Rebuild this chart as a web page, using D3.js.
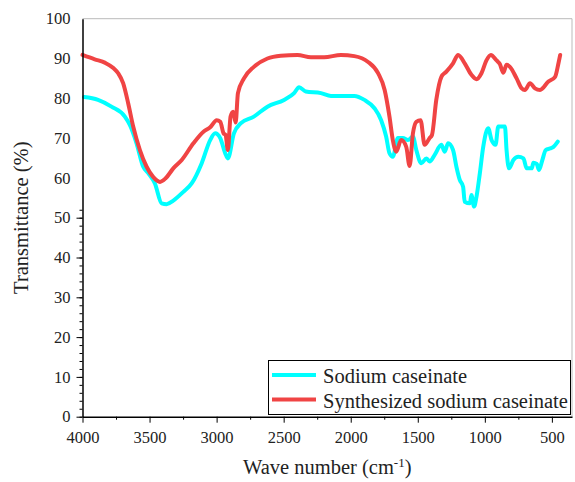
<!DOCTYPE html>
<html>
<head>
<meta charset="UTF-8" />
<script src="https://cdn.jsdelivr.net/npm/d3@7"></script>
<style>
    body { margin: 0; background: white; }
    svg text { font-family: "Liberation Serif", "Times New Roman", serif; fill: #222; }
</style>
</head>
<body>
<div id="chart"></div>
<script>
// Sodium caseinate (cyan)
const caseinWave = [3989, 3884, 3784, 3684, 3647, 3597, 3547, 3510, 3460, 3410, 3373, 3323, 3248, 3186, 3111, 3048, 3011, 2973, 2936,
    2916, 2871, 2821, 2722, 2621, 2497, 2422, 2385, 2335, 2222, 2147, 1973, 1898, 1823, 1773, 1736, 1711, 1686,
    1648, 1611, 1573, 1536, 1511, 1474, 1436, 1412, 1374, 1324, 1299, 1274, 1237, 1212, 1187, 1162, 1150, 1112, 1100, 1080, 1062, 1037, 1012,
    975, 950, 920, 900, 850, 838, 820, 787, 750, 712, 688, 650, 638, 613, 596, 571, 546, 513, 488, 456];
const caseinT = [80.3, 79.6, 77.9, 75.4, 73.3, 68.7, 62.8, 61.2, 58.6, 53.6, 53.4, 54.3, 56.5, 58.6, 63.7, 69.5, 71.2, 70, 66.2,
    64.9, 71.2, 73.7, 75.4, 77.9, 79.6, 81.3, 82.8, 81.7, 81.3, 80.6, 80.6, 79.6, 77.5, 74.5, 70.4, 66.2, 65.3,
    70, 70, 69.5, 70.4, 67, 63.7, 64.9, 64.1, 65.8, 68.3, 66.6, 68.7, 67, 62.8, 59.5, 57.8, 54, 53.6, 55.7, 52.8, 55.3, 61.2, 67.8,
    72.5, 69.5, 68.3, 72.9, 72.9, 67, 62.4, 64.5, 65.3, 64.9, 62.4, 62.4, 63.8, 63.5, 62, 64.5, 67, 67.4, 67.8, 69.1];

// Synthesized sodium caseinate (red)
const synthWave = [4000, 3909, 3830, 3770, 3734, 3697, 3659, 3622, 3572, 3522, 3472, 3422, 3380, 3323, 3260, 3173, 3098, 3048, 2999, 2973, 2948,
    2933, 2916, 2896, 2876, 2858, 2841, 2796, 2722, 2621, 2522, 2397, 2297, 2198, 2073, 1973, 1873, 1796, 1747, 1711, 1686, 1661,
    1624, 1586, 1561, 1536, 1511, 1479, 1449, 1412, 1394, 1362, 1324, 1287, 1237, 1199, 1150, 1100, 1062, 1025, 987, 955,
    912, 888, 862, 838, 813, 763, 725, 701, 663, 626, 588, 526, 476, 451, 438];
const synthT = [90.9, 89.8, 88.9, 87.6, 86.3, 83.8, 78.7, 72.9, 67, 62.8, 60.2, 59, 59.9, 62.4, 64.5, 68.7, 71.6, 72.7, 74.5, 74.1, 71.2,
    70.8, 67, 75.4, 76.6, 73.9, 81.3, 85, 87.9, 90, 90.7, 90.9, 90.3, 90.3, 90.9, 90.6, 89.2, 86.3, 82.1, 75.4, 69.5, 66.6,
    69.5, 67.8, 63, 71.2, 74.1, 74.5, 68.3, 70, 70.8, 79.6, 85.4, 86.7, 88.8, 90.9, 88.8, 85.9, 84.8, 86.3, 89.6, 90.9,
    89.5, 88.6, 86.4, 88.4, 87.9, 85, 82.5, 82.1, 83.8, 82.5, 82.1, 84.2, 85.4, 88.8, 90.9];

const seriesNames = ["Sodium caseinate", "Synthesized sodium caseinate"];
const seriesColors = ["#00ffff", "#f04444"];
const xTicks = [4000, 3500, 3000, 2500, 2000, 1500, 1000, 500];
const yTicks = [0, 10, 20, 30, 40, 50, 60, 70, 80, 90, 100];

const W = 575, H = 482;
const mLeft = 82.5, mRight = 572, mTop = 18.7, mBottom = 416.7;
const serif = "Liberation Serif, Times New Roman, serif";

const svg = d3.select("#chart").append("svg")
    .attr("width", W).attr("height", H);

const x = d3.scaleLinear().domain([4000, 350]).range([mLeft, mRight]);
const y = d3.scaleLinear().domain([0, 100]).range([mBottom, mTop]);

// frame (top / right)
svg.append("path")
    .attr("d", `M${mLeft},${mTop}H${mRight}V${mBottom}`)
    .attr("fill", "none").attr("stroke", "#bbb").attr("stroke-width", 1);

// curves
const line = d3.line().x(d => x(d[0])).y(d => y(d[1])).curve(d3.curveMonotoneX);
const series = [
    d3.zip(caseinWave, caseinT),
    d3.zip(synthWave, synthT)
];
series.forEach((s, i) => {
    svg.append("path").datum(s)
        .attr("d", line)
        .attr("fill", "none")
        .attr("stroke", seriesColors[i])
        .attr("stroke-width", 4)
        .attr("stroke-linejoin", "round")
        .attr("stroke-linecap", "round");
});

// x axis
const minorX = d3.range(3750, 350, -500);
svg.append("g").attr("transform", `translate(0,${mBottom})`)
    .call(d3.axisBottom(x).tickValues(minorX).tickSize(3).tickFormat(""))
    .call(g => g.select(".domain").remove());
svg.append("g").attr("transform", `translate(0,${mBottom})`)
    .call(d3.axisBottom(x).tickValues(xTicks).tickSizeInner(6).tickSizeOuter(0).tickFormat(""))
    .call(g => g.select(".domain").attr("stroke-width", 1.5));
svg.append("g").attr("transform", `translate(0,${mBottom})`)
    .call(d3.axisBottom(x).tickValues(xTicks).tickSize(0).tickPadding(15).tickFormat(d3.format("d")))
    .attr("font-family", serif).attr("font-size", 16.5)
    .call(g => g.select(".domain").remove());

// y axis
const minorY = d3.range(0, 54, 2);
svg.append("g").attr("transform", `translate(${mLeft},0)`)
    .call(d3.axisLeft(y).tickValues(minorY).tickSize(3).tickFormat(""))
    .call(g => g.select(".domain").remove());
svg.append("g").attr("transform", `translate(${mLeft},0)`)
    .call(d3.axisLeft(y).tickValues([0, 10, 20, 30, 40, 50]).tickSizeInner(6).tickSizeOuter(0).tickFormat(""))
    .call(g => g.select(".domain").attr("stroke-width", 1.5));
svg.append("g").attr("transform", `translate(${mLeft},0)`)
    .call(d3.axisLeft(y).tickValues(yTicks).tickSize(0).tickPadding(12))
    .attr("font-family", serif).attr("font-size", 16.5)
    .call(g => g.select(".domain").remove());

// axis titles
svg.append("text")
    .attr("transform", `translate(28,${(mTop + mBottom) / 2}) rotate(-90)`)
    .attr("text-anchor", "middle")
    .attr("font-size", 20.5)
    .text("Transmittance (%)");

const xt = svg.append("text")
    .attr("x", (mLeft + mRight) / 2).attr("y", 474)
    .attr("text-anchor", "middle")
    .attr("font-size", 20.5);
xt.append("tspan").text("Wave number (cm");
xt.append("tspan").attr("font-size", 13).attr("dy", -7).text("-1");
xt.append("tspan").attr("dy", 7).text(")");

// legend
const lg = svg.append("g");
lg.append("rect")
    .attr("x", 268.5).attr("y", 360.5).attr("width", 302).attr("height", 54)
    .attr("fill", "white").attr("stroke", "black").attr("stroke-width", 1);
seriesNames.forEach((name, i) => {
    const ly = 375 + i * 24.5;
    lg.append("line")
        .attr("x1", 272).attr("x2", 316).attr("y1", ly).attr("y2", ly)
        .attr("stroke", seriesColors[i]).attr("stroke-width", 4);
    lg.append("text")
        .attr("x", 323).attr("y", ly + 8)
        .attr("font-size", 20.5)
        .text(name);
});
</script>
</body>
</html>
